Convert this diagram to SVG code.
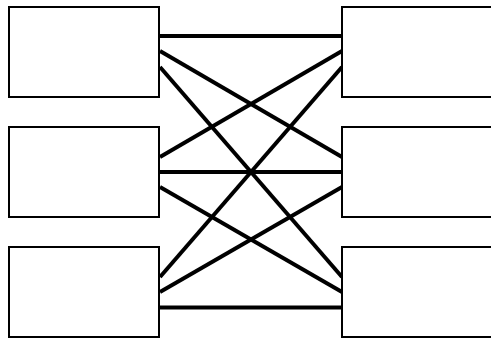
<svg xmlns="http://www.w3.org/2000/svg" width="491" height="338" viewBox="0 0 491 338">
<style>
.box{fill:#fff;stroke:#000;stroke-width:2}
.ln{stroke:#000;stroke-width:4;fill:none}
</style>
<rect width="491" height="338" fill="#fff"/>
<g id="connectors">
<line class="ln" x1="160" y1="36" x2="342" y2="36"/>
<line class="ln" x1="160" y1="51" x2="342" y2="157"/>
<line class="ln" x1="160" y1="67" x2="342" y2="277"/>
<line class="ln" x1="160" y1="157" x2="342" y2="51"/>
<line class="ln" x1="160" y1="172" x2="342" y2="172"/>
<line class="ln" x1="160" y1="187" x2="342" y2="292"/>
<line class="ln" x1="160" y1="277" x2="342" y2="67"/>
<line class="ln" x1="160" y1="292" x2="342" y2="187"/>
<line class="ln" x1="160" y1="307.5" x2="342" y2="307.5"/>
</g>
<g id="left1"><rect class="box" x="9" y="7" width="150" height="90"/></g>
<g id="left2"><rect class="box" x="9" y="127" width="150" height="90"/></g>
<g id="left3"><rect class="box" x="9" y="247" width="150" height="90"/></g>
<g id="right1"><rect class="box" x="342" y="7" width="150" height="90"/></g>
<g id="right2"><rect class="box" x="342" y="127" width="150" height="90"/></g>
<g id="right3"><rect class="box" x="342" y="247" width="150" height="90"/></g>
</svg>
